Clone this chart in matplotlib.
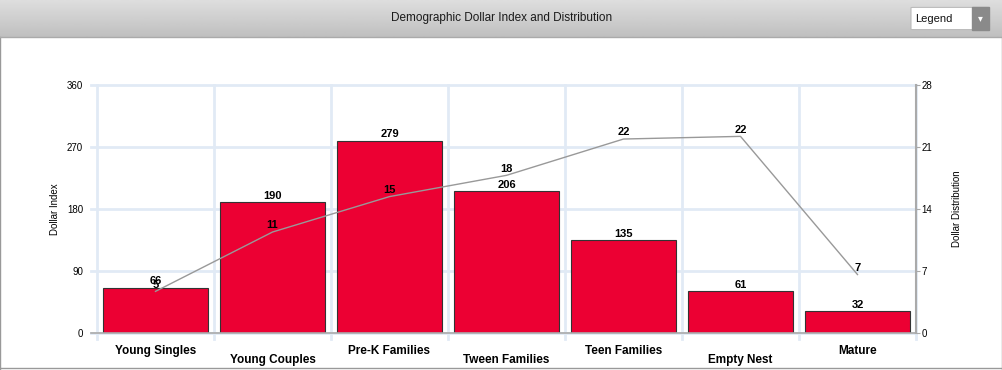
import numpy as np
import matplotlib
matplotlib.use('Agg')
import matplotlib.pyplot as plt
from matplotlib.patches import Rectangle, FancyBboxPatch

plt.rcParams['font.family'] = ['Liberation Sans', 'DejaVu Sans']

categories = ['Young Singles', 'Young Couples', 'Pre-K Families', 'Tween Families',
              'Teen Families', 'Empty Nest', 'Mature']
dollar_index = [66, 190, 279, 206, 135, 61, 32]
dollar_distribution = [4.7, 11.4, 15.4, 17.8, 21.9, 22.2, 6.6]
left_ticks = [0, 90, 180, 270, 360]
right_ticks = [0, 7, 14, 21, 28]

fig = plt.figure(figsize=(10.03, 3.70), dpi=100)

# header bar with gradient
hdr = fig.add_axes([0, 1 - 37 / 370, 1, 37 / 370])
grad = np.linspace(0.87, 0.75, 50).reshape(-1, 1)
hdr.imshow(np.repeat(grad, 2, axis=1), cmap='gray', vmin=0, vmax=1, aspect='auto',
           extent=[0, 1, 0, 1])
hdr.set_xlim(0, 1)
hdr.set_ylim(0, 1)
hdr.axis('off')
hdr.text(0.5, 0.5, 'Demographic Dollar Index and Distribution', ha='center', va='center',
         fontsize=8.5, color='#1a1a1a')
hdr.add_patch(FancyBboxPatch((911 / 1003, 0.2), 78 / 1003, 0.6,
                             boxstyle='round,pad=0,rounding_size=0.004',
                             fc='white', ec='#bbbbbb', lw=0.8))
hdr.add_patch(Rectangle((972 / 1003, 0.2), 17 / 1003, 0.6, fc='#8a8a8a', ec='#8a8a8a'))
hdr.text(915 / 1003, 0.5, 'Legend', ha='left', va='center', fontsize=8, color='#111111')
hdr.text(980.5 / 1003, 0.5, '\u25be', ha='center', va='center', fontsize=7, color='white')

# outer frame lines
fig.add_artist(plt.Line2D([0.5 / 1003, 0.5 / 1003], [0, 1 - 37 / 370], color='#999999', lw=1))
fig.add_artist(plt.Line2D([1002.5 / 1003, 1002.5 / 1003], [0, 1 - 37 / 370], color='#999999', lw=1))
fig.add_artist(plt.Line2D([0, 1], [2 / 370, 2 / 370], color='#999999', lw=1))
fig.add_artist(plt.Line2D([0, 1], [1 - 37 / 370, 1 - 37 / 370], color='#aaaaaa', lw=1))

ax = fig.add_axes([97 / 1003, 37 / 370, 819 / 1003, 248 / 370])
x = np.arange(len(categories))
bars = ax.bar(x, dollar_index, width=0.89, color='#EC0033', edgecolor='#333333', lw=0.8, zorder=3)
ax.set_xlim(-0.5, len(categories) - 0.5)
ax.set_ylim(0, 360)
ax.set_yticks(left_ticks)
ax.set_yticklabels([str(t) for t in left_ticks], fontsize=7)
ax.set_ylabel('Dollar Index', fontsize=7, labelpad=5)
ax.tick_params(axis='y', length=0, pad=10)
ax.tick_params(axis='x', length=0)
ax.set_xticks([])
for b, v in zip(bars, dollar_index):
    ax.text(b.get_x() + b.get_width() / 2, v + 2, str(v), ha='center', va='bottom',
            fontsize=8, fontweight='bold', zorder=6)

for y in left_ticks:
    ax.plot([-0.55, len(categories) - 0.5], [y, y], color='#e1eaf5', lw=2, zorder=1, clip_on=False)
for xb in np.arange(-0.5, len(categories) - 0.4, 1):
    ax.plot([xb, xb], [-8, 360], color='#e1eaf5', lw=2, zorder=1, clip_on=False)
ax.plot([-0.55, len(categories) - 0.5], [0, 0], color='#aaaaaa', lw=1.2, zorder=4, clip_on=False)
for s in ax.spines.values():
    s.set_visible(False)

for i, c in enumerate(categories):
    off = -0.05 if i % 2 == 0 else -0.085
    ax.text(i, off, c, transform=ax.get_xaxis_transform(), ha='center', va='top',
            fontsize=8.5, fontweight='bold')

ax2 = ax.twinx()
ax2.plot(x, dollar_distribution, color='#999999', lw=1, zorder=5)
ax2.set_ylim(0, 28)
ax2.set_yticks(right_ticks)
ax2.set_yticklabels([str(t) for t in right_ticks], fontsize=7)
ax2.tick_params(axis='y', length=3, color='#aaaaaa', pad=1)
ax2.set_ylabel('Dollar Distribution', fontsize=7, labelpad=14)
for s in ['top', 'left', 'bottom']:
    ax2.spines[s].set_visible(False)
ax2.spines['right'].set_color('#aaaaaa')
ax2.spines['right'].set_linewidth(1.5)
for xi, v in zip(x, dollar_distribution):
    ax2.text(xi, v + 0.2, str(int(round(v))), ha='center', va='bottom',
             fontsize=8, fontweight='bold', zorder=6)

fig.savefig('out.png', dpi=100)
